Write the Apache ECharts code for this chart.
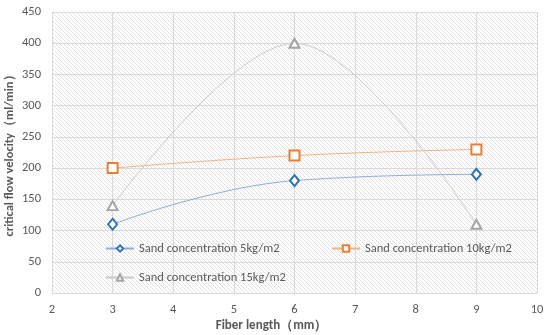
<!DOCTYPE html>
<html><head><meta charset="utf-8">
<script src="https://cdn.jsdelivr.net/npm/echarts@6/dist/echarts.min.js"></script>
<style>html,body{margin:0;padding:0;background:#fff}#c{width:550px;height:335px}</style>
</head><body><div id="c"></div>
<script>
const fiberLength = [3, 6, 9];
const sand5 = [110, 180, 190];
const sand10 = [200, 220, 230];
const sand15 = [140, 400, 110];
const seriesNames = ['Sand concentration 5kg/m2', 'Sand concentration 10kg/m2', 'Sand concentration 15kg/m2'];

const pc = document.createElement('canvas');
pc.width = 4; pc.height = 4;
const g = pc.getContext('2d');
g.fillStyle = '#ffffff'; g.fillRect(0,0,4,4);
g.strokeStyle = '#e2e2e2'; g.lineWidth = 1;
g.beginPath(); g.moveTo(-1,-1); g.lineTo(5,5); g.stroke();
g.beginPath(); g.moveTo(-1,3); g.lineTo(1,5); g.stroke();
g.beginPath(); g.moveTo(3,-1); g.lineTo(5,1); g.stroke();

const chart = echarts.init(document.getElementById('c'), null, {renderer:'canvas'});
const font = 'Calibri, Carlito, "Open Sans", sans-serif';
const mk = (arr) => fiberLength.map((x,i)=>[x, arr[i]]);
const legendText = {color:'#595959', fontSize:12.5, fontFamily:font};
chart.setOption({
  animation:false,
  backgroundColor:'#fff',
  grid:{left:52, right:13, top:12, bottom:42, show:true, containLabel:false, outerBoundsMode:'none',
        backgroundColor:{image:pc, repeat:'repeat'}, borderWidth:0},
  xAxis:{type:'value', min:2, max:10, interval:1,
    name:'Fiber length（mm）', nameLocation:'middle', nameGap:26, nameMoveOverlap:false,
    nameTextStyle:{color:'#595959', fontWeight:'bold', fontSize:13, fontFamily:font, padding:[0,46,0,0]},
    axisLine:{show:false}, axisTick:{show:false},
    axisLabel:{color:'#595959', fontSize:12.5, fontFamily:font, margin:10},
    splitLine:{show:true, lineStyle:{color:'#d9d9d9', width:1}}},
  yAxis:{type:'value', min:0, max:450, interval:50,
    name:'critical flow velocity（ml/min）', nameLocation:'middle', nameGap:36, nameMoveOverlap:false,
    nameTextStyle:{color:'#595959', fontWeight:'bold', fontSize:12.5, fontFamily:font},
    axisLine:{show:false}, axisTick:{show:false},
    axisLabel:{color:'#595959', fontSize:12.5, fontFamily:font, margin:11},
    splitLine:{show:true, lineStyle:{color:'#d9d9d9', width:1}}},
  legend:[
    {data:[seriesNames[0]], left:100, top:237, itemWidth:28, itemHeight:8, itemGap:4, textStyle:legendText},
    {data:[seriesNames[1]], left:326, top:237, itemWidth:28, itemHeight:8, itemGap:4, textStyle:legendText},
    {data:[seriesNames[2]], left:100, top:266, itemWidth:28, itemHeight:8, itemGap:4, textStyle:legendText}
  ],
  series:[
    {name:seriesNames[0], type:'line', data:mk(sand5), smooth:0.45,
     symbol:'diamond', symbolSize:[9,11],
     lineStyle:{color:'#8faadc', width:1},
     itemStyle:{color:'#ffffff', borderColor:'#2e75b6', borderWidth:2}},
    {name:seriesNames[1], type:'line', data:mk(sand10), smooth:0.45,
     symbol:'rect', symbolSize:10,
     lineStyle:{color:'#f4b183', width:1},
     itemStyle:{color:'#ffffff', borderColor:'#ed7d31', borderWidth:2}},
    {name:seriesNames[2], type:'line', data:mk(sand15), smooth:0.35,
     symbol:'triangle', symbolSize:[10,9],
     lineStyle:{color:'#c9c9c9', width:1},
     itemStyle:{color:'#ffffff', borderColor:'#a5a5a5', borderWidth:2}}
  ]
});
</script></body></html>
